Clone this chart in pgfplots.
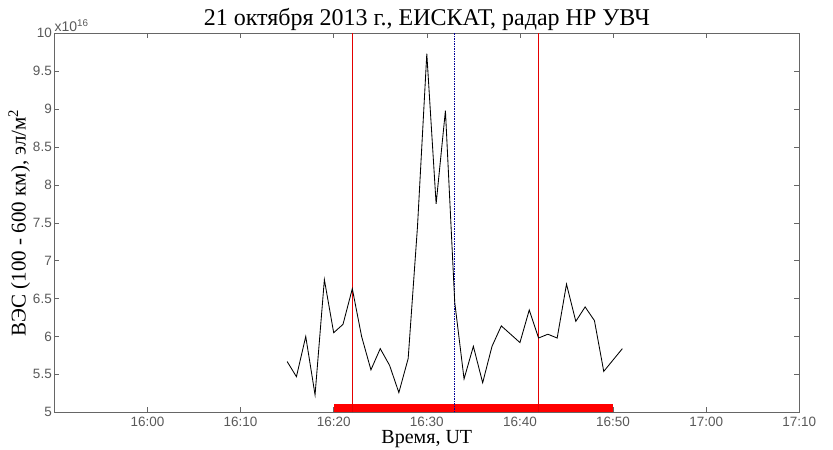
\documentclass[border=0pt]{standalone}
\usepackage{fontspec}
\setmainfont{Liberation Serif}
\newfontfamily\tickfont{Liberation Sans}
\usepackage{pgfplots}
\pgfplotsset{compat=1.18}

% TEC, 100-600 km, minutes after 16:00 UT
\pgfplotstableread{
t   tec
15  5.67
16  5.47
17  6.00
18  5.23
19  6.75
20  6.05
21  6.16
22  6.63
23  6.00
24  5.56
25  5.84
26  5.62
27  5.26
28  5.71
29  7.45
30  9.73
31  7.75
32  8.98
33  6.45
34  5.44
35  5.87
36  5.39
37  5.87
38  6.14
39  6.03
40  5.92
41  6.35
42  5.98
43  6.03
44  5.98
45  6.69
46  6.20
47  6.39
48  6.21
49  5.54
50  5.69
51  5.84
}\tecdata

\begin{document}
\begin{tikzpicture}
\begin{axis}[
  scale only axis,
  width=745pt, height=379pt,
  xmin=-10, xmax=70,
  ymin=5, ymax=10,
  xtick={0,10,...,70},
  xticklabels={16:00,16:10,16:20,16:30,16:40,16:50,17:00,17:10},
  ytick={5,5.5,...,10},
  yticklabels={5,5.5,6,6.5,7,7.5,8,8.5,9,9.5,10},
  tick align=inside,
  tick pos=both,
  major tick length=5pt,
  axis line style={black!60},
  every tick/.style={black!60},
  ticklabel style={font=\tickfont\fontsize{13.5}{13.5}\selectfont, text=black!65},
  /pgf/number format/assume math mode=true,
  xticklabel style={yshift=-1pt},
  yticklabel style={xshift=1pt},
  title={21 октября 2013 г., ЕИСКАТ, радар НР УВЧ},
  title style={font=\fontsize{24}{24}\selectfont, yshift=-7pt},
  xlabel={Время, UT},
  xlabel style={font=\fontsize{20}{20}\selectfont, yshift=2.5pt},
  ylabel={ВЭС (100 - 600 км), эл/м\textsuperscript{2}},
  ylabel style={font=\fontsize{21}{21}\selectfont, yshift=-4pt},
  clip=false,
]
% observation interval bar
\addplot[fill=red, draw=none] coordinates {(20,5) (50,5) (50,5.11) (20,5.11)} -- cycle;
% event markers
\addplot[red!90!black, line width=0.6pt] coordinates {(22,5) (22,10)};
\addplot[red!90!black, line width=0.6pt] coordinates {(42,5) (42,10)};
\addplot[blue!60!black, line width=0.6pt, dash pattern=on 1.5pt off 1pt] coordinates {(33,5) (33,10)};
% TEC
\addplot[black, line width=0.85pt] table[x=t, y=tec] {\tecdata};
\node[anchor=south west, inner sep=0pt, text=black!65, font=\tickfont\fontsize{14}{14}\selectfont]
  at (rel axis cs:0,1) [yshift=1.5pt] {x10\textsuperscript{16}};
\end{axis}
\pgfresetboundingbox
\path ([xshift=-54.3pt,yshift=-36.7pt]current axis.south west)
  rectangle ([xshift=33.7pt,yshift=33.3pt]current axis.north east);
\end{tikzpicture}
\end{document}
